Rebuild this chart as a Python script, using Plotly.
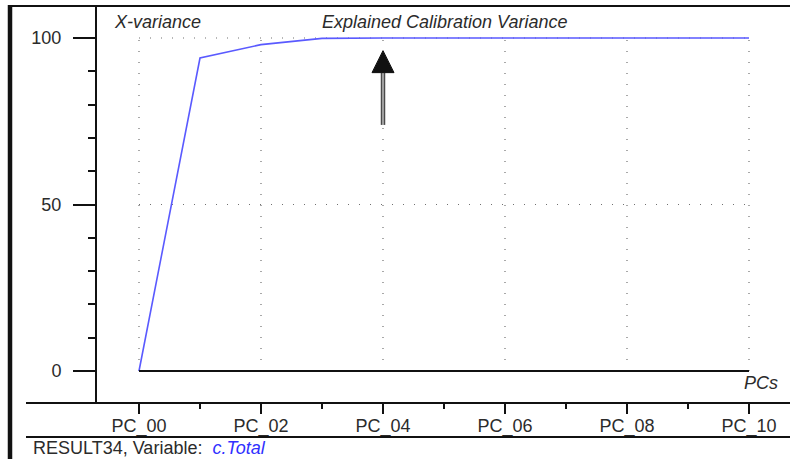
import plotly.graph_objects as go

# Explained calibration X-variance per principal component
pc_labels = ["PC_00", "PC_01", "PC_02", "PC_03", "PC_04", "PC_05",
             "PC_06", "PC_07", "PC_08", "PC_09", "PC_10"]
explained_variance = [0.0, 94.0, 98.0, 99.9, 100.0, 100.0,
                      100.0, 100.0, 100.0, 100.0, 100.0]
labelled_ticks = [0, 2, 4, 6, 8, 10]
y_ticks = [0, 50, 100]
y_grid = [50, 100]

W, H = 790, 459
pc_idx = list(range(len(pc_labels)))

# plot window in pixels
PX_L, PX_R, PX_T, PX_B = 97, 790, 6, 403
X0_PX, X_STEP = 139, 61.0
Y0_PX, Y_SCALE = 371, 3.33

x_range = [-(X0_PX - PX_L) / X_STEP, (PX_R - X0_PX) / X_STEP]
y_range = [-(PX_B - Y0_PX) / Y_SCALE, (Y0_PX - PX_T) / Y_SCALE]

FONT = "Liberation Sans, Arial, sans-serif"
FS = 18
TXT = "#2b2b2b"
LINE_BLUE = "#5a5aff"

fig = go.Figure()

fig.add_trace(go.Scatter(
    x=pc_idx, y=explained_variance, mode="lines",
    line=dict(color=LINE_BLUE, width=1.6),
    hoverinfo="skip", showlegend=False,
))

shapes = []
grid_style = dict(color="#707070", width=1.2, dash="1px,10px")
for t in labelled_ticks:
    shapes.append(dict(type="line", xref="x", yref="y", x0=t, x1=t,
                       y0=min(y_ticks), y1=max(y_ticks), line=grid_style, layer="below"))
for g in y_grid:
    shapes.append(dict(type="line", xref="x", yref="y", x0=pc_idx[0], x1=pc_idx[-1],
                       y0=g, y1=g, line=grid_style, layer="below"))

# baseline at zero
shapes.append(dict(type="line", xref="x", yref="y", x0=pc_idx[0], x1=pc_idx[-1],
                   y0=0, y1=0, line=dict(color="#111", width=2.2)))

def py(p):
    return 1 - p / H

def px(p):
    return p / W

# window frame
frame = dict(color="#111", width=2)
shapes += [
    dict(type="line", xref="paper", yref="paper", x0=px(10), x1=1, y0=py(6), y1=py(6), line=frame),
    dict(type="line", xref="paper", yref="paper", x0=px(10), x1=px(10), y0=py(5), y1=0,
         line=dict(color="#111", width=4.5)),
    dict(type="line", xref="paper", yref="paper", x0=px(26), x1=1, y0=py(403), y1=py(403), line=frame),
    dict(type="line", xref="paper", yref="paper", x0=px(26), x1=1, y0=py(437), y1=py(437), line=frame),
]

# arrow shaft
ARROW_X, ARROW_TIP, ARROW_BASE, ARROW_TAIL = 4, 96.2, 89.6, 73.9
shapes.append(dict(type="line", xref="x", yref="y", x0=ARROW_X, x1=ARROW_X,
                   y0=ARROW_TAIL, y1=ARROW_BASE, line=dict(color="#4a4a4a", width=4.5)))
shapes.append(dict(type="line", xref="x", yref="y", x0=ARROW_X, x1=ARROW_X,
                   y0=ARROW_TAIL, y1=ARROW_BASE, line=dict(color="#bdbdbd", width=1.5)))
# arrow head
shapes.append(dict(type="path", xref="x", yref="y",
                   path=f"M {ARROW_X - 11/X_STEP},{ARROW_BASE} L {ARROW_X + 11/X_STEP},{ARROW_BASE} "
                        f"L {ARROW_X},{ARROW_TIP} Z",
                   fillcolor="#111", line=dict(color="#111", width=1)))

annotations = [
    dict(text="<i>X-variance</i>", xref="paper", yref="paper", x=px(112), y=py(22),
         xanchor="left", yanchor="middle", showarrow=False, font=dict(size=FS, color=TXT, family=FONT)),
    dict(text="<i>Explained Calibration Variance</i>", xref="paper", yref="paper", x=px(444), y=py(22),
         xanchor="center", yanchor="middle", showarrow=False, font=dict(size=FS, color=TXT, family=FONT)),
    dict(text="<i>PCs</i>", xref="paper", yref="paper", x=px(742), y=py(383),
         xanchor="left", yanchor="middle", showarrow=False, font=dict(size=FS, color=TXT, family=FONT)),
    dict(text="RESULT34, Variable:  <i><span style='color:#3030ff'>c.Total</span></i>",
         xref="paper", yref="paper", x=px(31), y=py(448),
         xanchor="left", yanchor="middle", showarrow=False, font=dict(size=FS, color=TXT, family=FONT)),
]

fig.update_layout(
    width=W, height=H,
    margin=dict(l=0, r=0, t=0, b=0),
    paper_bgcolor="white", plot_bgcolor="white",
    showlegend=False,
    shapes=shapes, annotations=annotations,
    xaxis=dict(
        domain=[px(PX_L), 1], range=x_range,
        tickmode="array", tickvals=labelled_ticks,
        ticktext=[pc_labels[i] for i in labelled_ticks],
        ticks="outside", ticklen=10, tickwidth=2, tickcolor="#111",
        minor=dict(tickmode="array", tickvals=[i for i in pc_idx if i not in labelled_ticks],
                   ticks="outside", ticklen=5, tickwidth=2, tickcolor="#111", showgrid=False),
        showgrid=False, zeroline=False, showline=False,
        tickfont=dict(size=FS, color=TXT, family=FONT),
        ticklabelstandoff=-4, fixedrange=True,
    ),
    yaxis=dict(
        domain=[py(PX_B), py(PX_T)], range=y_range,
        tickmode="array", tickvals=y_ticks,
        ticks="outside", ticklen=22, tickwidth=2, tickcolor="#111",
        minor=dict(dtick=10, tick0=0, ticks="outside", ticklen=7, tickwidth=2,
                   tickcolor="#111", showgrid=False),
        showgrid=False, zeroline=False,
        showline=True, linecolor="#111", linewidth=2,
        tickfont=dict(size=FS, color=TXT, family=FONT),
        ticklabelstandoff=8, fixedrange=True,
    ),
)

fig.write_html("out.html")
